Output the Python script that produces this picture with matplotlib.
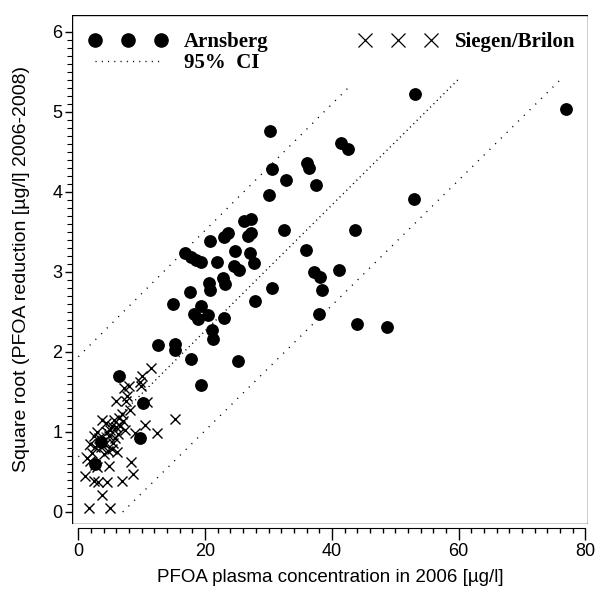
import numpy as np
import matplotlib.pyplot as plt
from matplotlib.lines import Line2D
from matplotlib.patches import Rectangle

# Arnsberg (filled circles)
arns_x = [53.1, 77.0, 41.5, 42.5, 53.0, 43.6, 41.1, 43.9, 48.7, 30.2,
          30.5, 36.0, 36.4, 32.8, 37.5, 30.0, 32.5, 35.9, 37.1, 38.1,
          30.6, 38.5, 38.0, 26.1, 27.3, 20.8, 23.0, 23.6, 26.8, 27.2,
          16.9, 17.7, 18.5, 19.4, 21.8, 24.7, 27.1, 24.5, 25.3, 27.7,
          17.6, 20.6, 20.8, 22.8, 23.1, 27.9, 15.0, 19.3, 18.2, 18.9,
          20.4, 23.0, 21.1, 21.2, 12.5, 15.2, 15.2, 17.7, 25.2, 19.4,
          6.4, 10.2, 9.7, 3.5, 2.6]
arns_y = [5.22, 5.03, 4.61, 4.54, 3.91, 3.52, 3.02, 2.35, 2.31, 4.76,
          4.28, 4.36, 4.30, 4.15, 4.09, 3.96, 3.52, 3.27, 3.00, 2.94,
          2.80, 2.77, 2.47, 3.63, 3.66, 3.39, 3.43, 3.49, 3.45, 3.49,
          3.24, 3.19, 3.15, 3.12, 3.12, 3.26, 3.24, 3.07, 3.02, 3.11,
          2.75, 2.86, 2.77, 2.92, 2.85, 2.64, 2.60, 2.58, 2.48, 2.41,
          2.46, 2.43, 2.27, 2.16, 2.09, 2.10, 2.02, 1.91, 1.89, 1.59,
          1.70, 1.36, 0.93, 0.87, 0.60]

# Siegen/Brilon (crosses)
sieg_x = [11.4, 10.1, 9.7, 9.9, 7.2, 8.0, 6.0, 7.5, 10.9, 8.2,
          6.9, 6.4, 7.1, 3.8, 4.4, 5.3, 6.0, 5.0, 10.5, 15.2,
          7.3, 6.3, 8.9, 12.4, 2.4, 3.2, 3.7, 4.2, 2.7, 3.5,
          5.5, 5.3, 4.7, 6.1, 1.9, 2.1, 4.0, 1.4, 1.9, 2.7,
          2.9, 4.8, 8.3, 8.7, 1.1, 2.5, 3.1, 4.5, 6.9, 3.8,
          1.7, 5.0, 4.8, 5.8, 4.5, 5.6, 6.6, 3.0, 7.7]
sieg_y = [1.80, 1.70, 1.63, 1.57, 1.55, 1.57, 1.39, 1.39, 1.38, 1.28,
          1.23, 1.18, 1.14, 1.15, 1.11, 1.08, 1.06, 1.03, 1.09, 1.16,
          1.03, 0.97, 0.99, 0.99, 0.95, 0.93, 0.88, 0.85, 0.81, 0.81,
          0.86, 0.79, 0.76, 0.75, 0.85, 0.74, 0.72, 0.68, 0.64, 0.59,
          0.56, 0.58, 0.63, 0.48, 0.45, 0.39, 0.38, 0.38, 0.39, 0.21,
          0.05, 0.05, 0.95, 0.92, 1.00, 1.15, 1.08, 1.00, 1.45]

# regression line and 95% CI
ci_mid_x = [0.0, 60.0]
ci_mid_y = [0.69, 5.41]
ci_up_x = [0.0, 43.2]
ci_up_y = [1.94, 5.35]
ci_lo_x = [7.0, 76.4]
ci_lo_y = [0.0, 5.43]

fig = plt.figure(figsize=(5.96, 5.91), dpi=100)
ax = fig.add_axes([0.1208, 0.1134, 0.8658, 0.8612])

ax.plot(ci_up_x, ci_up_y, color='black', lw=1.0, linestyle=(0, (0.8, 5.0)))
ax.plot(ci_lo_x, ci_lo_y, color='black', lw=1.0, linestyle=(0, (0.8, 5.0)))
ax.plot(ci_mid_x, ci_mid_y, color='black', lw=1.0, linestyle=(0, (0.8, 2.6)))

ax.plot(sieg_x, sieg_y, linestyle='none', marker='x', color='black',
        markersize=7.5, markeredgewidth=1.0)
ax.plot(arns_x, arns_y, linestyle='none', marker='o', color='black',
        markersize=8.2)

ax.set_xlim(-1.0, 80.4)
ax.set_ylim(-0.15, 6.21)

# R style box and axes
for s in ['top', 'right', 'left', 'bottom']:
    ax.spines[s].set_visible(False)
ax.add_patch(Rectangle((0, 0), 1, 1, transform=ax.transAxes, fill=False,
                       edgecolor='black', lw=1.0, zorder=5))
ax.spines['bottom'].set_visible(True)
ax.spines['bottom'].set_position(('outward', 3))
ax.spines['bottom'].set_bounds(0, 80)
ax.spines['left'].set_visible(True)
ax.spines['left'].set_bounds(0, 6)

ax.set_xticks([0, 20, 40, 60, 80])
ax.set_xticks(np.arange(0, 80.1, 2), minor=True)
ax.set_yticks([0, 1, 2, 3, 4, 5, 6])
ax.set_yticks(np.arange(0, 6.01, 0.1), minor=True)
ax.tick_params(axis='x', which='major', direction='out', length=8.5, width=1.0,
               pad=2, labelsize=13)
ax.tick_params(axis='x', which='minor', direction='out', length=3.6, width=1.0)
ax.tick_params(axis='y', which='major', direction='out', length=5, width=1.0,
               pad=2, labelsize=13)
ax.tick_params(axis='y', which='minor', direction='out', length=3.4, width=0.8)
for lab in ax.get_xticklabels() + ax.get_yticklabels():
    lab.set_family('Liberation Sans')

ax.set_xlabel('PFOA plasma concentration in 2006 [µg/l]', fontsize=13.5,
              family='Liberation Sans', labelpad=7)
ax.set_ylabel('Square root (PFOA reduction [µg/l] 2006-2008)', fontsize=14,
              family='Liberation Sans', labelpad=16)

leg_font = {'family': 'Liberation Serif', 'weight': 'bold', 'size': 15}
h_arns = Line2D([], [], linestyle='none', marker='o', color='black', markersize=9.5)
h_ci = Line2D([], [], color='black', lw=1.0, linestyle=(0, (0.8, 3.7)))
h_sieg = Line2D([], [], linestyle='none', marker='x', color='black',
                markersize=10.5, markeredgewidth=0.9)

leg1 = ax.legend([h_arns, h_ci], ['Arnsberg', '95%  CI'], loc='upper left',
                 bbox_to_anchor=(0.033, 0.966), frameon=False, prop=leg_font,
                 numpoints=3, handlelength=3.75, handletextpad=0.82,
                 labelspacing=0.05, borderpad=0, borderaxespad=0)
ax.add_artist(leg1)
ax.legend([h_sieg], ['Siegen/Brilon'], loc='upper left',
          bbox_to_anchor=(0.556, 0.966), frameon=False, prop=leg_font,
          numpoints=3, handlelength=3.75, handletextpad=0.87,
          borderpad=0, borderaxespad=0)

plt.savefig('out.png', dpi=100)
